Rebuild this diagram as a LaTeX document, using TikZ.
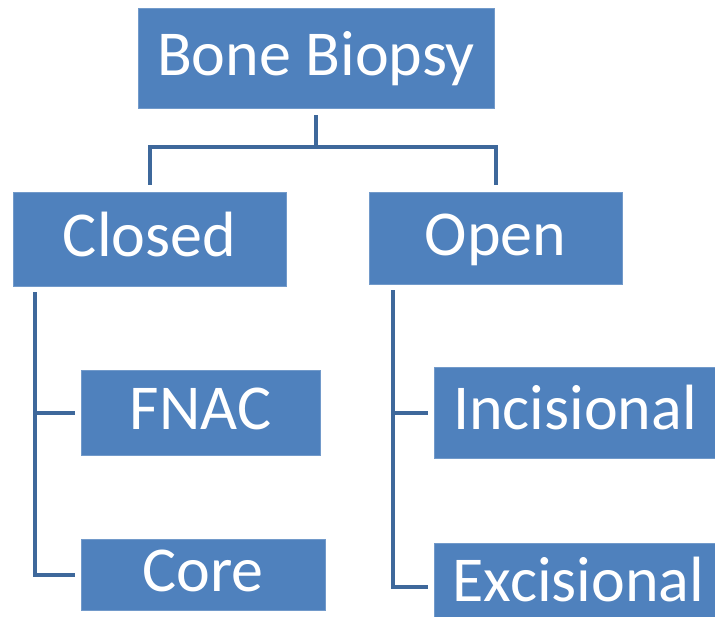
\documentclass[tikz,border=0pt]{standalone}
\usepackage{fontspec}
\setmainfont{Carlito}
\definecolor{boxblue}{RGB}{79,129,189}
\definecolor{lineblue}{RGB}{62,104,155}
\begin{document}
\begin{tikzpicture}[x=1pt,y=-1pt,
  box/.style={rectangle, fill=boxblue, draw=boxblue!80!white, line width=0.6pt, inner sep=0pt,
     text=white, font=\fontsize{64}{70}\selectfont, text height=41pt, text depth=7pt},
  conn/.style={draw=lineblue, line width=4pt, line join=miter}]
\clip (0,0) rectangle (715,616);
\fill[white] (0,0) rectangle (715,616);
\node[box, minimum width=356pt, minimum height=100pt] (root) at (316,58) {Bone Biopsy};
\node[box, minimum width=273pt, minimum height=94pt] (closed) at (149.5,239) {Closed};
\node[box, minimum width=253pt, minimum height=92pt] (open) at (495.5,238) {Open};
\node[box, minimum width=239pt, minimum height=85pt] (fnac) at (200.5,412.5) {FNAC};
\node[box, minimum width=244pt, minimum height=71pt] (core) at (203,574.5) {Core};
\node[box, minimum width=282pt, minimum height=91pt] (inc) at (575,412.5) {Incisional};
\node[box, minimum width=289pt, minimum height=82pt] (exc) at (578.5,584) {Excisional};
\coordinate (bus) at (316,147);
\coordinate (cx) at (35,0);
\coordinate (ox) at (393,0);
\draw[conn, shorten <=7pt] (root.south) -- (bus);
\draw[conn, shorten >=7pt] (bus) -| (closed.north);
\draw[conn, shorten >=7pt] (bus) -| (open.north);
\draw[conn, shorten <=6pt, shorten >=6pt] (closed.south -| cx) |- (fnac.west);
\draw[conn, shorten <=6pt, shorten >=6pt] (closed.south -| cx) |- (core.west);
\draw[conn, shorten <=6pt, shorten >=6pt] (open.south -| ox) |- (inc.west);
\draw[conn, shorten <=6pt, shorten >=6pt] (open.south -| ox) |- ([yshift=-3pt]exc.west);
\end{tikzpicture}
\end{document}
